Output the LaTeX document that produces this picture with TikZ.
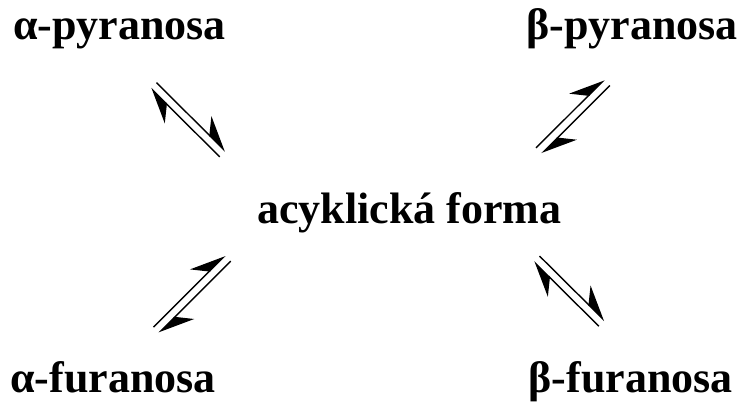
\documentclass[tikz,border=0pt]{standalone}
\usepackage{fontspec}
\setmainfont{Liberation Serif}
\usetikzlibrary{arrows.meta,calc}
\begin{document}
\begin{tikzpicture}[x=1pt,y=-1pt,
  lbl/.style={inner sep=0pt, font=\fontsize{44}{50}\selectfont\bfseries},
  eqline/.style={line width=1.4pt, -{Stealth[harpoon,length=33pt,width=30pt,inset=12pt]}}]
\useasboundingbox (0,0) rectangle (742,409);
\fill[white] (0,0) rectangle (742,409);
\node[lbl, anchor=base west] (ap) at (13,40) {α-pyranosa};
\node[lbl, anchor=base east] (bp) at (738,40) {β-pyranosa};
\node[lbl, anchor=base west] (ac) at (257,223) {acyklická forma};
\node[lbl, anchor=base west] (af) at (10,392) {α-furanosa};
\node[lbl, anchor=base east] (bf) at (733,392) {β-furanosa};
% axis end points of the four equilibrium arrows
\coordinate (tlP) at (153.7,85.5);  \coordinate (tlQ) at (222.5,154);
\coordinate (trP) at (538.9,150.7); \coordinate (trQ) at (607,82.7);
\coordinate (blP) at (156.3,330);   \coordinate (blQ) at (227.9,258.4);
\coordinate (brP) at (536.7,258.9); \coordinate (brQ) at (601.7,323.4);
\foreach \n in {tl,tr,bl,br}{
  \coordinate (\n L1) at ($(\n P)!4pt!90:(\n Q)$);
  \coordinate (\n L2) at ($(\n Q)!4pt!-90:(\n P)$);
  \coordinate (\n R1) at ($(\n Q)!4pt!90:(\n P)$);
  \coordinate (\n R2) at ($(\n P)!4pt!-90:(\n Q)$);
  \draw[eqline] (\n L1) -- (\n L2);
  \draw[eqline] (\n R1) -- (\n R2);
}
\end{tikzpicture}
\end{document}
